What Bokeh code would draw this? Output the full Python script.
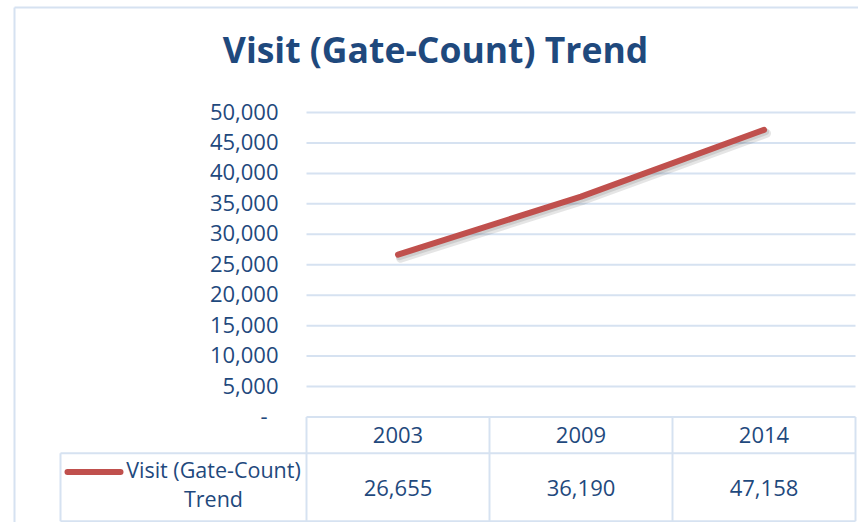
from bokeh.plotting import figure
from bokeh.models import Range1d
from bokeh.core.properties import value
from bokeh.embed import file_html
from bokeh.resources import INLINE

# ---- data ----
years = ["2003", "2009", "2014"]
visits = [26655, 36190, 47158]
visit_labels = ["26,655", "36,190", "47,158"]
series_name_lines = ["Visit (Gate-Count)", "Trend"]
title_text = "Visit (Gate-Count) Trend"
y_ticks = [0, 5000, 10000, 15000, 20000, 25000, 30000, 35000, 40000, 45000, 50000]
y_tick_labels = ["-", "5,000", "10,000", "15,000", "20,000", "25,000", "30,000",
                 "35,000", "40,000", "45,000", "50,000"]

# ---- layout (pixels in the picture) ----
W, H = 858, 522
CAT_PX = 183.0                 # pixels per category
X0_PX = 397.5                  # x of first category centre
Y0_PX = 416.5                  # y of value 0
Y50K_PX = 112.0                # y of value 50,000
UPY = 50000.0 / (Y0_PX - Y50K_PX)   # value units per pixel

xs = -X0_PX / CAT_PX
xe = xs + W / CAT_PX
ye = Y0_PX * UPY
ys = ye - H * UPY


def fx(px):
    return xs + px / CAT_PX


def fy(py):
    return ye - py * UPY


TEXT = "#1f497d"
GRID = "#d6e2f1"
RED = "#c0504d"
FONT = value("Open Sans")

p = figure(width=W, height=H, x_range=Range1d(xs, xe), y_range=Range1d(ys, ye),
           toolbar_location=None, output_backend="svg", min_border=0,
           x_axis_location=None, y_axis_location=None)
p.grid.visible = False
p.outline_line_color = None
p.background_fill_color = "white"
p.border_fill_color = "white"

# outer chart border (left and top edges visible)
p.segment(x0=[fx(14), fx(14)], y0=[fy(7), fy(7)], x1=[fx(14), fx(900)], y1=[fy(560), fy(7)],
          line_color=GRID, line_width=2)

# gridlines
n = len(y_ticks)
left_edge = -0.5
right_edge = len(years) - 0.5
p.segment(x0=[left_edge] * n, x1=[right_edge] * n, y0=y_ticks, y1=y_ticks,
          line_color=GRID, line_width=2)

# y tick labels
x_offs = [-11 if lab == "-" else 0 for lab in y_tick_labels]
p.text(x=[fx(278)] * n, y=y_ticks, text=y_tick_labels, x_offset=x_offs, y_offset=-1,
       text_align="right", text_baseline="alphabetic", text_color=TEXT,
       text_font=FONT, text_font_size="22px")

# data table grid
row1_bottom = fy(452.7)
row2_bottom = fy(520.7)
bounds = [i - 0.5 for i in range(len(years) + 1)]
p.segment(x0=bounds, x1=bounds, y0=[0] * len(bounds), y1=[row2_bottom] * len(bounds),
          line_color=GRID, line_width=2)
p.segment(x0=[fx(60), fx(60), fx(60)], x1=[right_edge, right_edge, fx(60)],
          y0=[row1_bottom, row2_bottom, row1_bottom], y1=[row1_bottom, row2_bottom, row2_bottom],
          line_color=GRID, line_width=2)

cats = list(range(len(years)))
# header row (years)
p.text(x=cats, y=[fy(434)] * len(years), text=years, text_align="center",
       text_baseline="alphabetic", text_color=TEXT, text_font=FONT, text_font_size="22px")
# values row
p.text(x=cats, y=[fy(487)] * len(years), text=visit_labels, text_align="center",
       text_baseline="alphabetic", text_color=TEXT, text_font=FONT, text_font_size="22px")

# legend key in table
p.line(x=[fx(67), fx(120)], y=[fy(471.5), fy(471.5)], line_color=RED, line_width=6,
       line_cap="round")
p.text(x=[fx(213), fx(213)], y=[fy(469), fy(498)], text=series_name_lines, text_align="center",
       text_baseline="alphabetic", text_color=TEXT, text_font=FONT, text_font_size="21.5px")

# series line with soft shadow
p.line(x=[c + 2.5 / CAT_PX for c in cats], y=[v - 3.5 * UPY for v in visits],
       line_color="#000000", line_alpha=0.10, line_width=9, line_cap="round", line_join="round")
p.line(x=[c + 1.5 / CAT_PX for c in cats], y=[v - 2.0 * UPY for v in visits],
       line_color="#000000", line_alpha=0.10, line_width=7, line_cap="round", line_join="round")
p.line(x=cats, y=visits, line_color=RED, line_width=6, line_cap="round", line_join="round")

# title
p.text(x=[fx(435)], y=[fy(48)], text=[title_text], text_align="center",
       text_baseline="alphabetic", text_color=TEXT, text_font=FONT,
       text_font_style="bold", text_font_size="35.5px")

open("out.html", "w").write(file_html(p, INLINE))
